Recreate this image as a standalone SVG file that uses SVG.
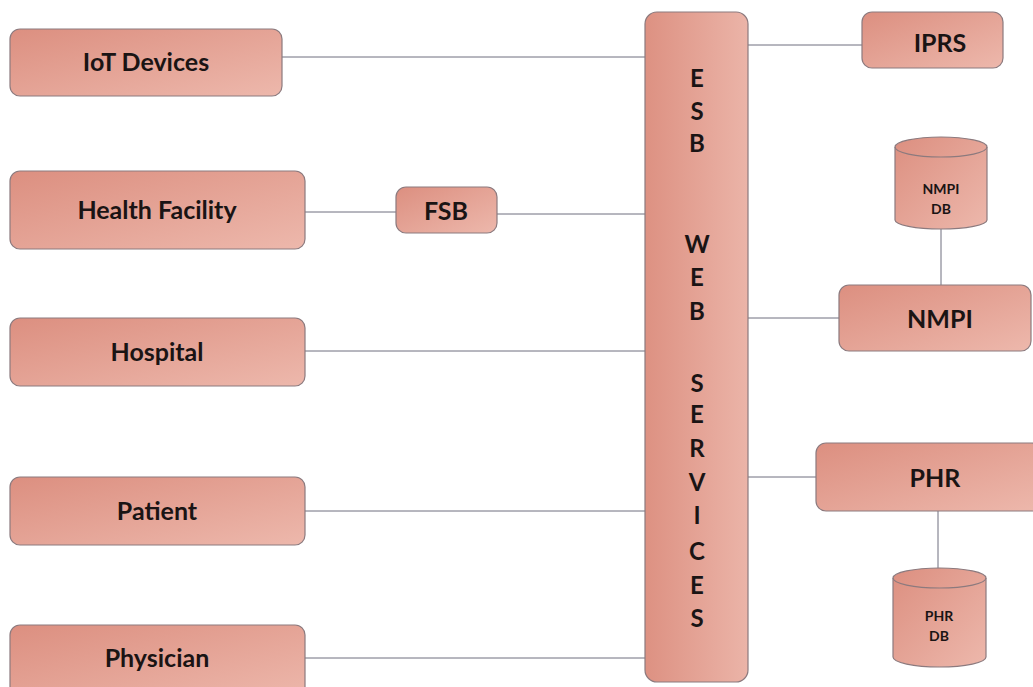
<svg xmlns="http://www.w3.org/2000/svg" width="1033" height="687" viewBox="0 0 1033 687">
<defs>
<linearGradient id="g" x1="0" y1="0" x2="1" y2="1">
<stop offset="0" stop-color="#dc8f80"/>
<stop offset="1" stop-color="#edb8ac"/>
</linearGradient>
<linearGradient id="gv" x1="0" y1="0" x2="1" y2="0">
<stop offset="0" stop-color="#dd9182"/>
<stop offset="1" stop-color="#ebb4a8"/>
</linearGradient>
<style>
.box{fill:url(#g);stroke:#8c7a7e;stroke-width:1.2}
.esb{fill:url(#gv);stroke:#8c7a7e;stroke-width:1.2}
.lbl{font-family:Lato,"Open Sans","Liberation Sans",sans-serif;font-weight:700;font-size:25px;fill:#1a1414;text-anchor:middle;dominant-baseline:central}
.sm{font-family:Lato,"Open Sans","Liberation Sans",sans-serif;font-weight:700;font-size:14px;fill:#1a1414;text-anchor:middle;dominant-baseline:central}
.ltr{font-family:Lato,"Open Sans","Liberation Sans",sans-serif;font-weight:700;font-size:24px;fill:#1a1414;text-anchor:middle;dominant-baseline:central}
.con{stroke:#6e6e7e;stroke-width:1;fill:none}
.rim{stroke:#8c7a7e;stroke-width:1.2;fill:none}
</style>
</defs>
<rect width="1033" height="687" fill="#ffffff"/>
<g id="connectors">
<line class="con" x1="282" y1="57" x2="645" y2="57"/>
<line class="con" x1="305" y1="212" x2="396" y2="212"/>
<line class="con" x1="497" y1="214" x2="645" y2="214"/>
<line class="con" x1="305" y1="351" x2="645" y2="351"/>
<line class="con" x1="305" y1="511" x2="645" y2="511"/>
<line class="con" x1="305" y1="658" x2="645" y2="658"/>
<line class="con" x1="748" y1="45" x2="862" y2="45"/>
<line class="con" x1="748" y1="318" x2="839" y2="318"/>
<line class="con" x1="748" y1="477" x2="816" y2="477"/>
<line class="con" x1="941" y1="229" x2="941" y2="285"/>
<line class="con" x1="938" y1="511" x2="938" y2="584"/>
</g>
<g id="iot"><rect class="box" x="10" y="29" width="272" height="67" rx="10"/><text class="lbl" x="146" y="61">IoT Devices</text></g>
<g id="health"><rect class="box" x="10" y="171" width="295" height="78" rx="10"/><text class="lbl" x="157" y="209">Health Facility</text></g>
<g id="hospital"><rect class="box" x="10" y="318" width="295" height="68" rx="10"/><text class="lbl" x="157" y="351">Hospital</text></g>
<g id="patient"><rect class="box" x="10" y="477" width="295" height="68" rx="10"/><text class="lbl" x="157" y="510">Patient</text></g>
<g id="physician"><rect class="box" x="10" y="625" width="295" height="75" rx="10"/><text class="lbl" x="157" y="657">Physician</text></g>
<g id="fsb"><rect class="box" x="396" y="187" width="101" height="46" rx="10"/><text class="lbl" x="446" y="210">FSB</text></g>
<g id="esb"><rect class="esb" x="645" y="12" width="103" height="670" rx="12"/>
<text class="ltr" x="697" y="77">E</text>
<text class="ltr" x="697" y="110">S</text>
<text class="ltr" x="697" y="142">B</text>
<text class="ltr" x="697" y="243">W</text>
<text class="ltr" x="697" y="276">E</text>
<text class="ltr" x="697" y="310">B</text>
<text class="ltr" x="697" y="382">S</text>
<text class="ltr" x="697" y="413">E</text>
<text class="ltr" x="697" y="447">R</text>
<text class="ltr" x="697" y="481">V</text>
<text class="ltr" x="697" y="514">I</text>
<text class="ltr" x="697" y="550">C</text>
<text class="ltr" x="697" y="584">E</text>
<text class="ltr" x="697" y="617">S</text>
</g>
<g id="iprs"><rect class="box" x="862" y="12" width="141" height="56" rx="10"/><text class="lbl" x="940" y="42">IPRS</text></g>
<g id="nmpidb"><path class="box" d="M895,147 L895,220 A46,9 0 0 0 987,220 L987,147 A46,10 0 0 0 895,147 Z"/><path class="rim" d="M895,147 A46,10 0 0 0 987,147"/><text class="sm" x="941" y="188">NMPI</text><text class="sm" x="941" y="208">DB</text></g>
<g id="nmpi"><rect class="box" x="839" y="285" width="192" height="66" rx="10"/><text class="lbl" x="940" y="318">NMPI</text></g>
<g id="phr"><rect class="box" x="816" y="443" width="225" height="68" rx="10"/><text class="lbl" x="935" y="477">PHR</text></g>
<g id="phrdb"><path class="box" d="M893,578 L893,657 A46.5,10 0 0 0 986,657 L986,578 A46.5,10 0 0 0 893,578 Z"/><path class="rim" d="M893,578 A46.5,10 0 0 0 986,578"/><text class="sm" x="939" y="615">PHR</text><text class="sm" x="939" y="635">DB</text></g>
</svg>
